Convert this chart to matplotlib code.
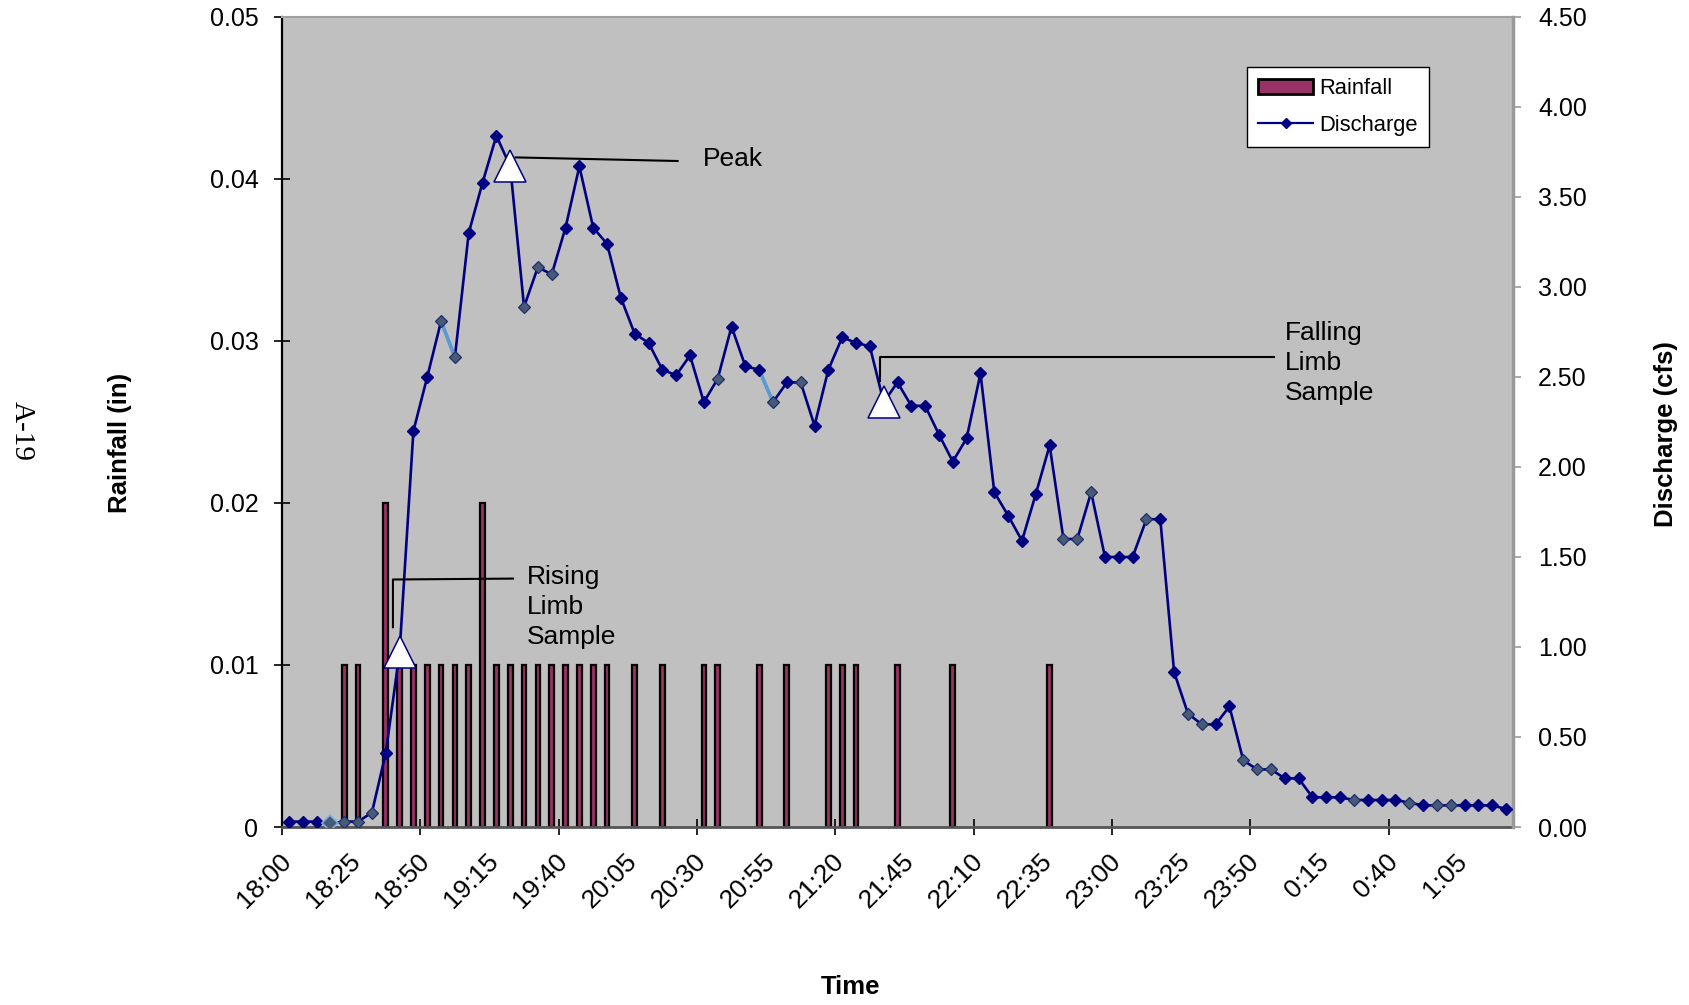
import matplotlib
matplotlib.use("Agg")
import matplotlib.pyplot as plt
import matplotlib.transforms as mtransforms
from matplotlib.patches import Patch
from matplotlib.lines import Line2D
import numpy as np

plt.rcParams['font.family'] = ['Liberation Sans', 'DejaVu Sans']

# discharge (cfs), one value per 5-minute step starting 18:00
discharge = [0.03, 0.03, 0.03, 0.02, 0.03, 0.03, 0.08, 0.41, 0.97, 2.20,
             2.50, 2.81, 2.61, 3.30, 3.58, 3.84, 3.67, 2.89, 3.11, 3.07,
             3.33, 3.67, 3.33, 3.24, 2.94, 2.74, 2.69, 2.54, 2.51, 2.62,
             2.36, 2.49, 2.78, 2.56, 2.54, 2.36, 2.47, 2.47, 2.23, 2.54,
             2.72, 2.69, 2.67, 2.36, 2.47, 2.34, 2.34, 2.18, 2.03, 2.16,
             2.52, 1.86, 1.73, 1.59, 1.85, 2.12, 1.60, 1.60, 1.86, 1.50,
             1.50, 1.50, 1.71, 1.71, 0.86, 0.63, 0.57, 0.57, 0.67, 0.37,
             0.32, 0.32, 0.27, 0.27, 0.165, 0.165, 0.165, 0.15, 0.15, 0.15,
             0.15, 0.135, 0.12, 0.12, 0.12, 0.12, 0.12, 0.12, 0.10]

# rainfall (in) per 5-minute step
rainfall = [0, 0, 0, 0, 0.01, 0.01, 0, 0.02, 0.01, 0.01,
            0.01, 0.01, 0.01, 0.01, 0.02, 0.01, 0.01, 0.01, 0.01, 0.01,
            0.01, 0.01, 0.01, 0.01, 0, 0.01, 0, 0.01, 0, 0,
            0.01, 0.01, 0, 0, 0.01, 0, 0.01, 0, 0, 0.01,
            0.01, 0.01, 0, 0, 0.01, 0, 0, 0, 0.01, 0,
            0, 0, 0, 0, 0, 0.01, 0, 0, 0, 0]

time_labels = ["18:00", "18:25", "18:50", "19:15", "19:40", "20:05", "20:30",
               "20:55", "21:20", "21:45", "22:10", "22:35", "23:00", "23:25",
               "23:50", "0:15", "0:40", "1:05"]

sample_idx = [8, 16, 43]
# points drawn in the lighter slate colour in the original
light_idx = [3, 4, 5, 6, 11, 12, 17, 18, 19, 31, 35, 37, 56, 57, 58, 62,
             65, 66, 69, 70, 71, 77, 81, 83, 84]

rain_ticks = [0, 0.01, 0.02, 0.03, 0.04, 0.05]
rain_tick_labels = ["0", "0.01", "0.02", "0.03", "0.04", "0.05"]
q_ticks = [0.0, 0.5, 1.0, 1.5, 2.0, 2.5, 3.0, 3.5, 4.0, 4.5]

n = len(discharge)
x = np.arange(n)

fig = plt.figure(figsize=(16.89, 10.05), dpi=100)
ax = fig.add_axes([282 / 1689, 1 - 827 / 1005, 1231 / 1689, 810 / 1005])
ax.set_facecolor('#c0c0c0')

# rainfall bars
xr = [i for i, v in enumerate(rainfall) if v > 0]
yr = [rainfall[i] for i in xr]
ax.bar(xr, yr, width=0.34, color='#993366', edgecolor='black', linewidth=1.6, zorder=2)
ax.set_xlim(-0.5, n - 0.5)
ax.set_ylim(0, 0.05)
ax.set_yticks(rain_ticks)
ax.set_yticklabels(rain_tick_labels)
ax.tick_params(axis='y', direction='inout', length=12, width=1.2, pad=11, labelsize=18)

ax.set_xticks(np.arange(0, n, 5))
ax.set_xticklabels(time_labels, rotation=45, ha='right', va='top')
ax.tick_params(axis='x', which='major', length=0, pad=16, labelsize=19)
ax.set_xticks(np.arange(-0.5, n, 10), minor=True)
ax.tick_params(axis='x', which='minor', direction='inout', length=11, width=1.2)
shift = mtransforms.ScaledTranslation(5 / 72, 0, fig.dpi_scale_trans)
for lab in ax.get_xticklabels():
    lab.set_transform(lab.get_transform() + shift)

ax.spines['left'].set_color('black')
ax.spines['left'].set_linewidth(1.6)
ax.spines['bottom'].set_color('#555555')
ax.spines['bottom'].set_linewidth(2)
ax.spines['top'].set_color('#a0a0a0')
ax.spines['top'].set_linewidth(1.5)
ax.spines['right'].set_visible(False)

# discharge on secondary axis
ax2 = ax.twinx()
ax2.set_ylim(0, 4.5)
ax2.set_xlim(-0.5, n - 0.5)
ax2.plot(x, discharge, color='#000080', lw=1.9, zorder=3)
for a, b in [(11, 12), (34, 35)]:
    ax2.plot([a, b], [discharge[a], discharge[b]], color='#5b9bd5', lw=2.6, zorder=3)
dark = [i for i in x if i not in light_idx]
ax2.plot(dark, [discharge[i] for i in dark], ls='none', marker='D', ms=6.5,
         mfc='#000080', mec='#000080', zorder=4)
ax2.plot(light_idx, [discharge[i] for i in light_idx], ls='none', marker='D', ms=6.5,
         mfc='#475a78', mec='#1f2d6a', mew=0.9, zorder=4)
ax2.plot([3], [discharge[3]], ls='none', marker='D', ms=8, mfc='#475a78',
         mec='#7fb0e0', mew=1.2, zorder=4)

# sample markers
ax2.plot(sample_idx, [discharge[i] for i in sample_idx], ls='none', marker='^', ms=23,
         mfc='white', mec='#000080', mew=1.1, zorder=5)

ax2.set_yticks(q_ticks)
ax2.set_yticklabels(["%.2f" % v for v in q_ticks])
ax2.tick_params(axis='y', direction='out', length=6, width=1.2, color='#999999',
                pad=12, labelsize=18)
ax2.spines['right'].set_color('#999999')
ax2.spines['right'].set_linewidth(2.5)
for s in ['left', 'bottom', 'top']:
    ax2.spines[s].set_visible(False)

# annotations
lc = dict(color='black', lw=1.5, zorder=6)
ax2.plot([16.4, 28.1], [3.72, 3.70], **lc)
ax2.text(29.9, 3.71, "Peak", fontsize=19, va='center', ha='left')

ax2.plot([7.52, 7.52, 16.2], [1.11, 1.375, 1.38], **lc)
ax2.text(17.2, 1.22, "Rising\nLimb\nSample", fontsize=19, va='center', ha='left',
         linespacing=1.32)

ax2.plot([42.76, 42.76, 71.2], [2.48, 2.61, 2.61], **lc)
ax2.text(72.0, 2.58, "Falling\nLimb\nSample", fontsize=19, va='center', ha='left',
         linespacing=1.32)

# legend
handles = [Patch(facecolor='#993366', edgecolor='black', linewidth=2),
           Line2D([], [], color='#000080', lw=1.6, marker='D', ms=5)]
leg = ax2.legend(handles, ["Rainfall", "Discharge"], loc='upper left',
                 bbox_to_anchor=(0.784, 0.938), borderaxespad=0, fontsize=15.8,
                 fancybox=False, framealpha=1, edgecolor='black',
                 handlelength=2.5, handletextpad=0.3, labelspacing=0.7,
                 borderpad=0.5)
leg.get_frame().set_linewidth(1.0)

# axis titles
fig.text(120 / 1689, 1 - 443 / 1005, "Rainfall (in)", rotation=90, fontsize=18.5,
         fontweight='bold', ha='center', va='center')
fig.text(1666 / 1689, 1 - 434 / 1005, "Discharge (cfs)", rotation=90, fontsize=18.5,
         fontweight='bold', ha='center', va='center')
fig.text(851 / 1689, 1 - 987 / 1005, "Time", fontsize=18.5, fontweight='bold',
         ha='center', va='center')
fig.text(22 / 1689, 1 - 431 / 1005, "A-19", rotation=270, fontsize=21,
         family='Liberation Serif', ha='center', va='center')

fig.savefig("out.png", dpi=100)
